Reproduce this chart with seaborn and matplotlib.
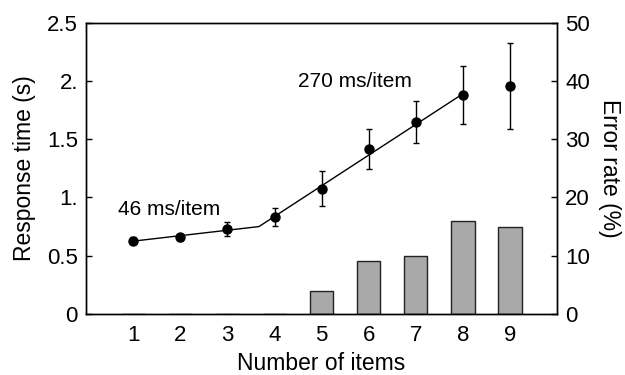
import numpy as np
import pandas as pd
import matplotlib
matplotlib.use("Agg")
import matplotlib.pyplot as plt
import seaborn as sns

# data
items = [1, 2, 3, 4, 5, 6, 7, 8, 9]
rt_mean = [0.627, 0.66, 0.728, 0.836, 1.074, 1.418, 1.652, 1.88, 1.96]
rt_err = [0.03, 0.03, 0.06, 0.077, 0.15, 0.17, 0.18, 0.25, 0.37]
error_rate = [0, 0, 0, 0, 4, 9, 10, 16, 15]
fit_x = [1, 3.67, 8]
fit_y = [0.625, 0.75, 1.89]
left_ticks = [0, 0.5, 1.0, 1.5, 2.0, 2.5]
left_labels = ["0", "0.5", "1.", "1.5", "2.", "2.5"]
right_ticks = [0, 10, 20, 30, 40, 50]


def main():
    sns.set_style("ticks")
    plt.rcParams["font.family"] = ["Liberation Sans", "DejaVu Sans"]
    plt.rcParams["font.size"] = 16
    for key in ("text.color", "axes.labelcolor", "xtick.color", "ytick.color"):
        plt.rcParams[key] = "black"

    fig = plt.figure(figsize=(6.25, 3.75), dpi=100)
    ax1 = fig.add_axes([0.138, 0.163, 0.753, 0.776])
    ax2 = ax1.twinx()

    # error-rate bars (right axis)
    bars = pd.DataFrame({"items": items, "error": error_rate})
    sns.barplot(data=bars, x="items", y="error", native_scale=True, width=0.5,
                color="#a9a9a9", saturation=1, edgecolor="#222222",
                linewidth=1, ax=ax2)

    # response time points + fit lines (left axis)
    ax1.set_zorder(ax2.get_zorder() + 1)
    ax1.patch.set_visible(False)
    fit = pd.DataFrame({"x": fit_x, "y": fit_y})
    sns.lineplot(data=fit, x="x", y="y", color="black", linewidth=1, ax=ax1)
    ax1.errorbar(items, rt_mean, yerr=rt_err, fmt="o", color="black",
                 markersize=6.5, capsize=2.5, elinewidth=1, capthick=1)

    ax1.text(0.68, 0.893, "46 ms/item", fontsize=15, va="center", ha="left")
    ax1.text(4.5, 2.0, "270 ms/item", fontsize=15, va="center", ha="left")

    ax1.set_xlim(0, 10)
    ax1.set_ylim(0, 2.5)
    ax2.set_ylim(0, 50)
    ax1.set_xticks(items)
    ax1.set_xticklabels([str(i) for i in items])
    ax1.set_yticks(left_ticks)
    ax1.set_yticklabels(left_labels)
    ax2.set_yticks(right_ticks)
    ax2.set_yticklabels([str(t) for t in right_ticks])

    ax1.set_xlabel("Number of items", fontsize=16.5, labelpad=4)
    ax1.set_ylabel("Response time (s)", fontsize=16.5, labelpad=8)
    ax2.set_ylabel("Error rate (%)", fontsize=16.5, rotation=270, labelpad=22)

    for ax in (ax1, ax2):
        for s in ax.spines.values():
            s.set_visible(True)
            s.set_color("black")
            s.set_linewidth(1)
        ax.tick_params(direction="in", length=4, width=1, labelsize=16, pad=6)
    ax1.tick_params(axis="x", length=0, pad=8)
    ax2.tick_params(axis="x", length=0)

    fig.savefig("out.png", dpi=100)
    plt.close(fig)


if __name__ == "__main__":
    main()
